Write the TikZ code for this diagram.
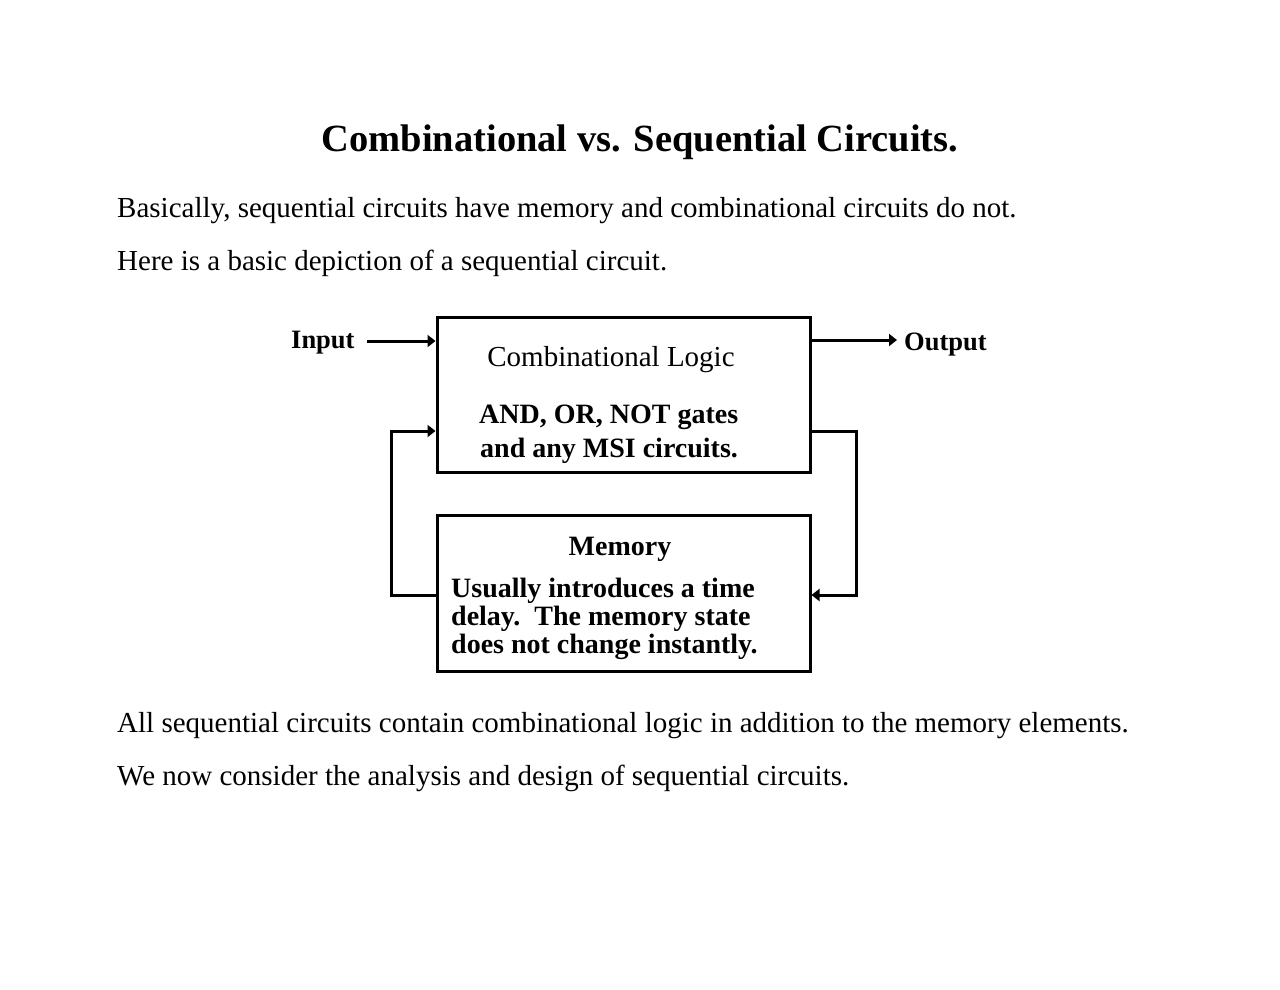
\documentclass[tikz,border=0pt]{standalone}
\usepackage{fontspec}
\setmainfont{Liberation Serif}
\usetikzlibrary{arrows.meta}
\begin{document}
\begin{tikzpicture}[x=1pt,y=-1pt,
  body/.style={anchor=base west, inner sep=0pt, font=\fontsize{29}{34}\selectfont},
  dtext/.style={inner sep=0pt, font=\fontsize{28}{30}\selectfont\bfseries},
  blk/.style={draw, line width=3pt, minimum width=373pt, minimum height=155pt, inner sep=0pt},
  arr/.style={line width=3pt, -{Triangle[length=8pt,width=12pt]}}]
\useasboundingbox (0,0) rectangle (1280,989);
% texts
\node[anchor=base, inner sep=0pt, font=\fontsize{38.5}{44}\selectfont\bfseries] (title) at (640,151.7) {Combinational vs. Sequential Circuits.};
\node[body] (p1) at (117,217.3) {Basically, sequential circuits have memory and combinational circuits do not.};
\node[body] (p2) at (117,270) {Here is a basic depiction of a sequential circuit.};
\node[body] (p3) at (117,732.7) {All sequential circuits contain combinational logic in addition to the memory elements.};
\node[body] (p4) at (117,785) {We now consider the analysis and design of sequential circuits.};
% blocks
\node[blk] (comb) at (623.5,394.5) {};
\node[blk, minimum height=156pt] (mem) at (623.5,593) {};
% block texts
\node[anchor=base, inner sep=0pt, font=\fontsize{29}{30}\selectfont] (cl) at (611,366.7) {Combinational Logic};
\node[dtext, anchor=base west] (g1) at (479,423) {AND, OR, NOT gates};
\node[dtext, anchor=base west] (g2) at (480,457) {and any MSI circuits.};
\node[dtext, anchor=base] (mt) at (620,555) {Memory};
\node[dtext, anchor=base west] (m1) at (451,597) {Usually introduces a time};
\node[dtext, anchor=base west] (m2) at (451,625) {delay.\ \ The memory state};
\node[dtext, anchor=base west] (m3) at (451,653) {does not change instantly.};
% input / output
\node[anchor=base west, inner sep=0pt, font=\fontsize{26.5}{28}\selectfont\bfseries] (in) at (291,348) {Input};
\node[anchor=base west, inner sep=0pt, font=\fontsize{26.5}{28}\selectfont\bfseries] (out) at (904,350) {Output};
\coordinate (intail) at (367,341);
\coordinate (outhead) at (897,340);
\coordinate (fbl) at (391,500);
\coordinate (fbr) at (856,500);
\draw[arr] (intail) -- (intail -| comb.west);
\draw[arr] (comb.east |- outhead) -- (outhead);
\draw[arr] ([yshift=-2pt]mem.west) -| (fbl) |- ([yshift=-36.5pt]comb.west);
\draw[arr] ([yshift=-36.5pt]comb.east) -| (fbr) |- ([yshift=-2pt]mem.east);
\end{tikzpicture}
\end{document}
